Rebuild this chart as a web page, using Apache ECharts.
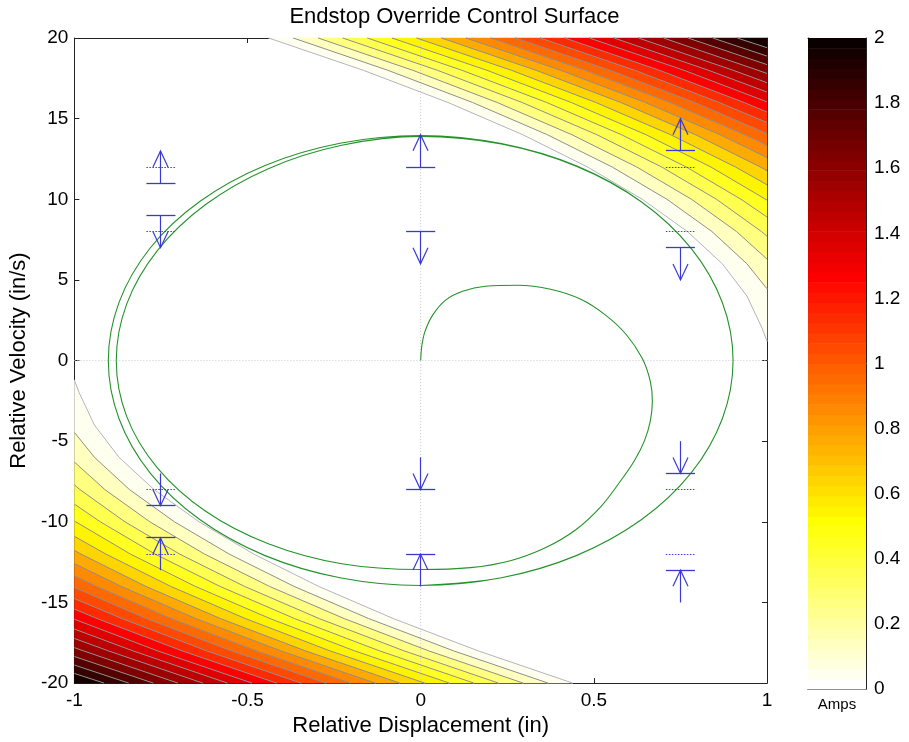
<!DOCTYPE html>
<html>
<head>
<meta charset="utf-8">
<title>Endstop Override Control Surface</title>
<script src="https://cdn.jsdelivr.net/npm/echarts@6/dist/echarts.min.js"></script>
<style>
  html, body { margin: 0; padding: 0; background: #fff; }
  #chart { width: 909px; height: 742px; }
</style>
</head>
<body>
<div id="chart"></div>
<script>
// ---- data -------------------------------------------------------------
// Contour levels of the override current (Amps)
const contourLevels = [0, 0.1, 0.2, 0.3, 0.4, 0.5, 0.6, 0.7, 0.8, 0.9,
                       1.0, 1.1, 1.2, 1.3, 1.4, 1.5, 1.6, 1.7, 1.8, 1.9];

// Contour lines in the upper-right lobe, [displacement, velocity] along each line
const upperContours = [
  [[-0.439,20],[-0.166,18],[0.079,16],[0.295,14],[0.482,12],[0.640,10],[0.770,8],[0.871,6],[0.942,4],[0.986,2],[1,1.2]],
  [[-0.368,20],[-0.095,18],[0.150,16],[0.366,14],[0.553,12],[0.711,10],[0.841,8],[0.942,6],[1,4.45]],
  [[-0.296,20],[-0.023,18],[0.221,16],[0.437,14],[0.624,12],[0.782,10],[0.912,8],[1,6.29]],
  [[-0.225,20],[0.048,18],[0.293,16],[0.509,14],[0.696,12],[0.854,10],[0.984,8],[1,7.71]],
  [[-0.154,20],[0.119,18],[0.364,16],[0.580,14],[0.767,12],[0.925,10],[1,8.90]],
  [[-0.083,20],[0.191,18],[0.435,16],[0.651,14],[0.838,12],[0.996,10],[1,9.95]],
  [[-0.012,20],[0.262,18],[0.506,16],[0.722,14],[0.909,12],[1,10.90]],
  [[0.060,20],[0.333,18],[0.578,16],[0.794,14],[0.981,12],[1,11.77]],
  [[0.131,20],[0.404,18],[0.649,16],[0.865,14],[1,12.59]],
  [[0.202,20],[0.475,18],[0.720,16],[0.936,14],[1,13.35]],
  [[0.273,20],[0.546,18],[0.791,16],[1,14.07]],
  [[0.345,20],[0.618,18],[0.862,16],[1,14.76]],
  [[0.416,20],[0.689,18],[0.934,16],[1,15.41]],
  [[0.487,20],[0.760,18],[1,16.04]],
  [[0.558,20],[0.831,18],[1,16.65]],
  [[0.629,20],[0.902,18],[1,17.23]],
  [[0.701,20],[0.974,18],[1,17.80]],
  [[0.772,20],[1,18.35]],
  [[0.843,20],[1,18.88]],
  [[0.914,20],[1,19.40]]
];

// Contour lines in the lower-left lobe
const lowerContours = [
  [[0.439,-20],[0.166,-18],[-0.079,-16],[-0.295,-14],[-0.482,-12],[-0.640,-10],[-0.770,-8],[-0.871,-6],[-0.942,-4],[-0.986,-2],[-1,-1.2]],
  [[0.368,-20],[0.095,-18],[-0.150,-16],[-0.366,-14],[-0.553,-12],[-0.711,-10],[-0.841,-8],[-0.942,-6],[-1,-4.45]],
  [[0.296,-20],[0.023,-18],[-0.221,-16],[-0.437,-14],[-0.624,-12],[-0.782,-10],[-0.912,-8],[-1,-6.29]],
  [[0.225,-20],[-0.048,-18],[-0.293,-16],[-0.509,-14],[-0.696,-12],[-0.854,-10],[-0.984,-8],[-1,-7.71]],
  [[0.154,-20],[-0.119,-18],[-0.364,-16],[-0.580,-14],[-0.767,-12],[-0.925,-10],[-1,-8.90]],
  [[0.083,-20],[-0.191,-18],[-0.435,-16],[-0.651,-14],[-0.838,-12],[-0.996,-10],[-1,-9.95]],
  [[0.012,-20],[-0.262,-18],[-0.506,-16],[-0.722,-14],[-0.909,-12],[-1,-10.90]],
  [[-0.060,-20],[-0.333,-18],[-0.578,-16],[-0.794,-14],[-0.981,-12],[-1,-11.77]],
  [[-0.131,-20],[-0.404,-18],[-0.649,-16],[-0.865,-14],[-1,-12.59]],
  [[-0.202,-20],[-0.475,-18],[-0.720,-16],[-0.936,-14],[-1,-13.35]],
  [[-0.273,-20],[-0.546,-18],[-0.791,-16],[-1,-14.07]],
  [[-0.345,-20],[-0.618,-18],[-0.862,-16],[-1,-14.76]],
  [[-0.416,-20],[-0.689,-18],[-0.934,-16],[-1,-15.41]],
  [[-0.487,-20],[-0.760,-18],[-1,-16.04]],
  [[-0.558,-20],[-0.831,-18],[-1,-16.65]],
  [[-0.629,-20],[-0.902,-18],[-1,-17.23]],
  [[-0.701,-20],[-0.974,-18],[-1,-17.80]],
  [[-0.772,-20],[-1,-18.35]],
  [[-0.843,-20],[-1,-18.88]],
  [[-0.914,-20],[-1,-19.40]]
];

// Corner of each lobe (highest current)
const lobeCorners = [[1, 20], [-1, -20]];

// Simulated phase trajectory: displacement (in) vs velocity (in/s)
const trajectory = [
  // start-up arm from rest
  [0,0],[0.003,0.86],[0.012,1.78],[0.035,2.83],[0.072,3.75],[0.121,4.30],[0.187,4.61],[0.282,4.67],
  [0.375,4.42],[0.461,3.81],[0.533,2.83],[0.594,1.60],[0.640,0.12],[0.663,-1.29],[0.669,-2.52],
  [0.663,-3.75],[0.646,-4.98],[0.617,-6.21],[0.576,-7.50],[0.519,-9.09],[0.447,-10.51],[0.360,-11.61],
  [0.259,-12.41],[0.144,-12.84],[0,-12.96],
  // first cycle
  [-0.228,-12.60],[-0.440,-11.36],[-0.622,-9.33],[-0.761,-6.64],[-0.849,-3.46],[-0.879,0],
  [-0.849,3.50],[-0.761,6.80],[-0.622,9.66],[-0.440,11.90],[-0.228,13.35],[0,13.9],
  [0.233,13.43],[0.451,12.04],[0.638,9.83],[0.781,6.95],[0.871,3.60],[0.902,0],
  [0.871,-3.61],[0.781,-6.97],[0.638,-9.86],[0.451,-12.08],[0.233,-13.47],[0,-13.95],
  // second cycle
  [-0.233,-13.47],[-0.451,-12.08],[-0.638,-9.86],[-0.781,-6.98],[-0.871,-3.61],[-0.902,0],
  [-0.871,3.61],[-0.781,6.98],[-0.638,9.86],[-0.451,12.08],[-0.233,13.47],[0,13.95],
  [0.233,13.45],[0.451,12.06],[0.638,9.84],[0.781,6.96],[0.871,3.60],[0.902,0],
  [0.871,-3.61],[0.781,-6.97],[0.638,-9.86],[0.451,-12.08],[0.233,-13.47],[0,-13.95]
];

// Override markers: position, solid threshold bar, dotted reference, arrow from -> to
const markerX      = [-0.75, -0.75, -0.75, -0.75,  0,  0,  0,   0,  0.75, 0.75, 0.75, 0.75];
const markerBarV   = [11,     9,    -9,   -11,    12,  8, -8, -12,   13,   7,   -7,  -13];
const markerGuideV = [12,     8,    -8,   -12,  null, null, null, null, 12, 8,  -8,  -12];
const arrowFromV   = [11,     9,    -7,   -13,    12,  8, -6, -14,   13,   7,   -5,  -15];
const arrowToV     = [13,     7,    -9,   -11,    14,  6, -8, -12,   15,   5,   -7,  -13];

// Colour bar range (Amps)
const colorbarMin = 0;
const colorbarMax = 2;

// ---- styling helpers ----------------------------------------------------
const FONT = '"Liberation Sans", Arial, Helvetica, sans-serif';
const INK = '#000';
const BLUE = '#3a3ad2';
const GREEN = '#24932a';
const CONTOUR = '#8f8f8f';

// Flipped MATLAB "hot" map with 64 steps: white -> yellow -> red -> black
function hotColor(index64) {
  const i = 64 - index64;           // 1..64 in the original hot table
  const r = Math.min(1, i / 24);
  const g = Math.min(1, Math.max(0, (i - 24) / 24));
  const b = Math.min(1, Math.max(0, (i - 48) / 16));
  return 'rgb(' + Math.round(r * 255) + ',' + Math.round(g * 255) + ',' + Math.round(b * 255) + ')';
}
function colorForValue(v) {
  let k = Math.floor((v - colorbarMin) / (colorbarMax - colorbarMin) * 64);
  k = Math.max(0, Math.min(63, k));
  return hotColor(k);
}
// snap a 1px stroke to the pixel grid
function crisp(p) { return Math.round(p - 0.5) + 0.5; }

const contourSets = [upperContours, lowerContours];
const bandItems = [];
const lineItems = [];
contourSets.forEach(function (set, lobe) {
  set.forEach(function (_, k) {
    bandItems.push([lobe, k]);
    lineItems.push([lobe, k]);
  });
});

const colorbarCells = [];
for (let k = 0; k < 64; k++) colorbarCells.push([0, k]);

const markerData = markerX.map(function (x, i) {
  return [x, markerBarV[i], markerGuideV[i] == null ? NaN : markerGuideV[i], arrowFromV[i], arrowToV[i]];
});

// ---- chart ---------------------------------------------------------------
const chart = echarts.init(document.getElementById('chart'), null, { renderer: 'canvas' });

const tickText = { color: INK, fontFamily: FONT, fontSize: 19 };
const frameLine = { show: true, onZero: false, lineStyle: { color: '#222', width: 1 } };
const innerTick = { show: true, inside: true, length: 5, lineStyle: { color: '#222', width: 1 } };
const nameText = { fontFamily: FONT, fontSize: 22, color: INK };

const option = {
  animation: false,
  backgroundColor: '#fff',
  textStyle: { fontFamily: FONT },
  title: {
    text: 'Endstop Override Control Surface',
    left: 'center',
    top: 1,
    textStyle: { fontFamily: FONT, fontSize: 22, fontWeight: 'normal', color: INK }
  },
  grid: [
    { left: 73, right: 142, top: 38, bottom: 53 },
    { left: 808, width: 58, top: 38, bottom: 53 }
  ],
  xAxis: [
    {
      gridIndex: 0, type: 'value', min: -1, max: 1, interval: 0.5, position: 'bottom',
      axisLine: frameLine, axisTick: innerTick, splitLine: { show: false },
      axisLabel: Object.assign({ margin: 8 }, tickText),
      name: 'Relative Displacement (in)', nameLocation: 'middle', nameGap: 16,
      nameTextStyle: nameText
    },
    {
      gridIndex: 0, type: 'value', min: -1, max: 1, interval: 0.5, position: 'top',
      axisLine: frameLine, axisTick: innerTick, splitLine: { show: false },
      axisLabel: { show: false }
    },
    {
      gridIndex: 1, type: 'value', min: 0, max: 1, position: 'bottom',
      axisLine: frameLine, axisTick: { show: false }, splitLine: { show: false },
      axisLabel: { show: false },
      name: 'Amps', nameLocation: 'middle', nameGap: 8,
      nameTextStyle: { fontFamily: FONT, fontSize: 15, color: INK, verticalAlign: 'top' }
    },
    {
      gridIndex: 1, type: 'value', min: 0, max: 1, position: 'top',
      axisLine: frameLine, axisTick: { show: false }, splitLine: { show: false },
      axisLabel: { show: false }
    }
  ],
  yAxis: [
    {
      gridIndex: 0, type: 'value', min: -20, max: 20, interval: 5, position: 'left',
      axisLine: frameLine, axisTick: innerTick, splitLine: { show: false },
      axisLabel: Object.assign({ margin: 6 }, tickText),
      name: 'Relative Velocity (in/s)', nameLocation: 'middle', nameGap: 30, nameRotate: 90,
      nameTextStyle: nameText
    },
    {
      gridIndex: 0, type: 'value', min: -20, max: 20, interval: 5, position: 'right',
      axisLine: frameLine, axisTick: innerTick, splitLine: { show: false },
      axisLabel: { show: false }
    },
    {
      gridIndex: 1, type: 'value', min: colorbarMin, max: colorbarMax, interval: 0.2, position: 'right',
      axisLine: frameLine, axisTick: innerTick, splitLine: { show: false },
      axisLabel: Object.assign({ margin: 8 }, tickText)
    },
    {
      gridIndex: 1, type: 'value', min: colorbarMin, max: colorbarMax, interval: 0.2, position: 'left',
      axisLine: frameLine, axisTick: innerTick, splitLine: { show: false },
      axisLabel: { show: false }
    }
  ],
  series: [
    // filled bands between neighbouring contour levels
    {
      type: 'custom', xAxisIndex: 0, yAxisIndex: 0, z: 1, silent: true,
      data: bandItems,
      renderItem: function (params, api) {
        const lobe = api.value(0), k = api.value(1);
        const set = contourSets[lobe];
        const lower = set[k];
        const upper = k + 1 < set.length ? set[k + 1] : [lobeCorners[lobe]];
        const pts = lower.concat(upper.slice().reverse()).map(function (p) { return api.coord(p); });
        const c = colorForValue(contourLevels[k] + 0.05);
        return {
          type: 'polygon', shape: { points: pts },
          style: { fill: c, stroke: c, lineWidth: 0.5 }
        };
      }
    },
    // zero grid lines
    {
      type: 'line', xAxisIndex: 0, yAxisIndex: 0, z: 2, silent: true, showSymbol: false,
      data: [[-1, 0], [1, 0]],
      lineStyle: { color: '#c9c9d2', width: 1, type: [1, 2] }
    },
    {
      type: 'line', xAxisIndex: 0, yAxisIndex: 0, z: 2, silent: true, showSymbol: false,
      data: [[0, -20], [0, 20]],
      lineStyle: { color: '#c9c9d2', width: 1, type: [1, 2] }
    },
    // contour lines
    {
      type: 'custom', xAxisIndex: 0, yAxisIndex: 0, z: 3, silent: true,
      data: lineItems,
      renderItem: function (params, api) {
        const lobe = api.value(0), k = api.value(1);
        const pts = contourSets[lobe][k].map(function (p) { return api.coord(p); });
        return {
          type: 'polyline', shape: { points: pts },
          style: { fill: null, stroke: k === 0 ? '#b4b4c2' : CONTOUR, lineWidth: 1 }
        };
      }
    },
    // trajectory
    {
      type: 'line', xAxisIndex: 0, yAxisIndex: 0, z: 4, silent: true,
      data: trajectory, showSymbol: false, smooth: 0.35,
      lineStyle: { color: GREEN, width: 1.1 }
    },
    // override markers
    {
      type: 'custom', xAxisIndex: 0, yAxisIndex: 0, z: 5, silent: true,
      data: markerData,
      renderItem: function (params, api) {
        const x = api.value(0);
        const barV = api.value(1), guideV = api.value(2);
        const fromV = api.value(3), toV = api.value(4);
        const half = 0.042;
        const children = [];
        const b0 = api.coord([x - half, barV]), b1 = api.coord([x + half, barV]);
        const by = crisp(b0[1]);
        children.push({ type: 'line', shape: { x1: b0[0], y1: by, x2: b1[0], y2: by },
          style: { stroke: BLUE, lineWidth: 1.3 } });
        if (!isNaN(guideV)) {
          const g0 = api.coord([x - half, guideV]), g1 = api.coord([x + half, guideV]);
          const gy = crisp(g0[1]);
          children.push({ type: 'line', shape: { x1: g0[0], y1: gy, x2: g1[0], y2: gy },
            style: { stroke: '#3c3cdc', lineWidth: 1, lineDash: [1.5, 1.5] } });
        }
        const f = api.coord([x, fromV]), t = api.coord([x, toV]);
        const sx = crisp(f[0]);
        children.push({ type: 'line', shape: { x1: sx, y1: f[1], x2: sx, y2: t[1] },
          style: { stroke: BLUE, lineWidth: 1.2 } });
        const dir = f[1] > t[1] ? 1 : -1;
        children.push({ type: 'polyline',
          shape: { points: [[sx - 7.5, t[1] + dir * 16], [sx, t[1]], [sx + 7.5, t[1] + dir * 16]] },
          style: { stroke: BLUE, fill: null, lineWidth: 1.2 } });
        return { type: 'group', children: children };
      }
    },
    // colour bar
    {
      type: 'custom', xAxisIndex: 2, yAxisIndex: 2, z: 1, silent: true,
      data: colorbarCells,
      renderItem: function (params, api) {
        const k = api.value(1);
        const step = (colorbarMax - colorbarMin) / 64;
        const p0 = api.coord([0, colorbarMin + (k + 1) * step]);
        const p1 = api.coord([1, colorbarMin + k * step]);
        return {
          type: 'rect',
          shape: { x: p0[0], y: p0[1], width: p1[0] - p0[0], height: p1[1] - p0[1] + 0.6 },
          style: { fill: hotColor(k) }
        };
      }
    }
  ]
};

chart.setOption(option);
</script>
</body>
</html>
